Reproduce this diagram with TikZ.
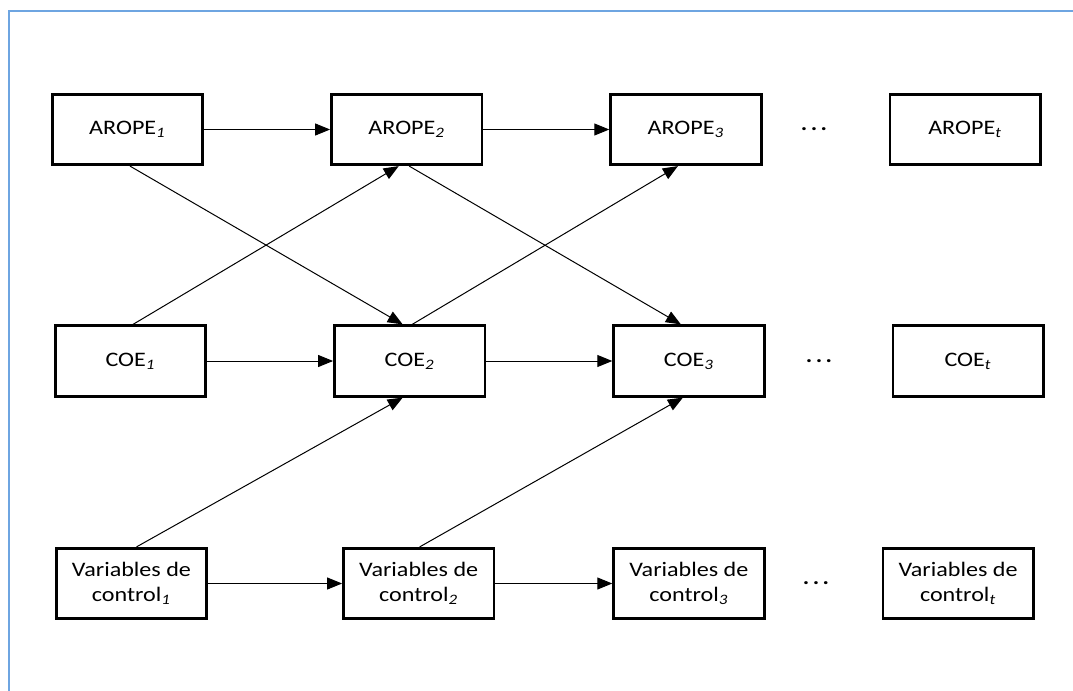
\documentclass[tikz,border=0pt]{standalone}
\usepackage{fontspec}
\setmainfont{Carlito}[FakeStretch=1.17]
\usepackage{tikz}
\usetikzlibrary{arrows.meta, positioning}
\usepackage{xcolor}
\definecolor{framecol}{RGB}{110,165,225}

\newcommand{\idx}[1]{\textsubscript{\textit{#1}}}

\begin{document}
\begin{tikzpicture}[
        node distance=63pt,
        box/.style={rectangle, draw, line width=1.4pt, minimum width=75.2pt, minimum height=35.2pt, inner sep=1pt, align=center, font=\fontsize{10.3}{12.5}\selectfont},
        dots/.style={inner sep=0pt, font=\fontsize{10.3}{12.5}\selectfont\bfseries},
        arrow/.style={line width=0.5pt, -{Triangle[length=7.5pt,width=6pt]}},
        frame/.style={draw=framecol, line width=1pt}
    ]

        \useasboundingbox (0,0) rectangle (536.5pt,-345.5pt);
        \draw [frame] (4.25pt,-345.5pt) -- (4.25pt,-5.25pt) -- (536.5pt,-5.25pt);

        % AROPE row
        \node [box] (A1) at (63.75pt,-64.75pt) {AROPE\idx{1}};
        \node [box, right=of A1] (A2) {AROPE\idx{2}};
        \node [box, right=of A2] (A3) {AROPE\idx{3}};
        \node [dots, right=19pt of A3] (Ad) {.\,.\,.};
        \node [box, right=of A3] (At) {AROPE\idx{t}};

        % COE row
        \node [box] (C1) at (65.25pt,-180.5pt) {COE\idx{1}};
        \node [box, right=of C1] (C2) {COE\idx{2}};
        \node [box, right=of C2] (C3) {COE\idx{3}};
        \node [dots, right=20pt of C3] (Cd) {.\,.\,.};
        \node [box, right=of C3] (Ct) {COE\idx{t}};

        % control variables row
        \node [box] (V1) at (65.75pt,-291.75pt) {Variables de\\control\idx{1}};
        \node [box, right=67pt of V1] (V2) {Variables de\\control\idx{2}};
        \node [box, right=58.5pt of V2] (V3) {Variables de\\control\idx{3}};
        \node [dots, right=18.5pt of V3] (Vd) {.\,.\,.};
        \node [box, right=58pt of V3] (Vt) {Variables de\\control\idx{t}};

        \draw [arrow] (A1) -- (A2);
        \draw [arrow] (A2) -- (A3);
        \draw [arrow] (C1) -- (C2);
        \draw [arrow] (C2) -- (C3);
        \draw [arrow] (V1) -- (V2);
        \draw [arrow] (V2) -- (V3);

        \draw [arrow] ([xshift=1.25pt]A1.south) -- ([xshift=-3.5pt]C2.north);
        \draw [arrow] ([xshift=1.25pt]C1.north) -- ([xshift=-4pt]A2.south);
        \draw [arrow] ([xshift=1.25pt]A2.south) -- ([xshift=-4pt]C3.north);
        \draw [arrow] ([xshift=1.25pt]C2.north) -- ([xshift=-4pt]A3.south);
        \draw [arrow] ([xshift=2.5pt]V1.north) -- ([xshift=-3.5pt]C2.south);
        \draw [arrow] ([xshift=0.5pt]V2.north) -- ([xshift=-3pt]C3.south);
    \end{tikzpicture}
\end{document}
